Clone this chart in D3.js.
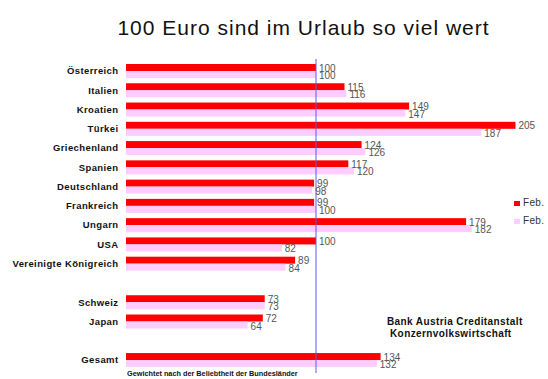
<!DOCTYPE html>
<html><head><meta charset="utf-8">
<script src="https://cdn.jsdelivr.net/npm/d3@7"></script>
<style>body{margin:0;background:#fff}svg{display:block}</style>
</head><body>
<script>
const categories = ["Österreich","Italien","Kroatien","Türkei","Griechenland","Spanien","Deutschland","Frankreich","Ungarn","USA","Vereinigte Königreich","","Schweiz","Japan","","Gesamt"];
const seriesNames = ["Feb.","Feb."];
const values1 = [100,115,149,205,124,117,99,99,179,100,89,null,73,72,null,134];
const values2 = [100,116,147,187,126,120,98,100,182,82,84,null,73,64,null,132];
const colors = ["#ff0000","#ffccff"];

const W=548,H=379;
const svg=d3.select("body").append("svg").attr("width",W).attr("height",H);

const x=d3.scaleLinear().domain([0,220]).range([126,544]);
const y=d3.scaleBand().domain(d3.range(categories.length)).range([62,62+16*19.27]).padding(0);
const sub=d3.scaleBand().domain([0,1]).range([2,16]).padding(0);

svg.append("text").attr("x",303.5).attr("y",35).attr("text-anchor","middle")
  .attr("font-family","Liberation Sans, Arial, sans-serif").attr("font-size",21)
  .attr("letter-spacing",1).attr("fill","#111").text("100 Euro sind im Urlaub so viel wert");

const rows=categories.map((c,i)=>({c,i,v:[values1[i],values2[i]]})).filter(d=>d.c!=="");

const g=svg.append("g");
rows.forEach(d=>{
  d.v.forEach((v,k)=>{
    g.append("rect").attr("x",x(0)).attr("y",y(d.i)+sub(k)).attr("width",x(v)-x(0)).attr("height",sub.bandwidth()).attr("fill",colors[k]);
  });
});
// reference line at 100
svg.append("line").attr("x1",x(100)).attr("x2",x(100)).attr("y1",59).attr("y2",373).attr("stroke","#5a5aee").attr("stroke-width",1);

rows.forEach(d=>{
  d.v.forEach((v,k)=>{
    svg.append("text").attr("x",x(v)+3).attr("y",y(d.i)+sub(k)+sub.bandwidth()+(k?1:0.5))
      .attr("font-family","Liberation Sans, Arial, sans-serif").attr("font-size",10).attr("fill","#555").text(v);
  });
  svg.append("text").attr("x",118.5).attr("y",y(d.i)+sub(1)+3.3).attr("text-anchor","end")
    .attr("font-family","Liberation Sans, Arial, sans-serif").attr("font-size",9.5).attr("font-weight","bold")
    .attr("letter-spacing",0.4).attr("fill","#111").text(d.c);
});

// legend
seriesNames.forEach((s,k)=>{
  svg.append("rect").attr("x",514).attr("y",201+k*18).attr("width",6).attr("height",5).attr("fill",colors[k]);
  svg.append("text").attr("x",523).attr("y",206+k*18).attr("font-family","Liberation Sans, Arial, sans-serif")
    .attr("font-size",10).attr("letter-spacing",0.3).attr("fill","#333").text(s);
});

svg.append("text").attr("x",387).attr("y",325).attr("font-family","Liberation Sans, Arial, sans-serif")
  .attr("font-size",10).attr("font-weight","bold").attr("letter-spacing",0.4).attr("fill","#111").text("Bank Austria Creditanstalt");
svg.append("text").attr("x",390).attr("y",337).attr("font-family","Liberation Sans, Arial, sans-serif")
  .attr("font-size",10).attr("font-weight","bold").attr("letter-spacing",0.4).attr("fill","#111").text("Konzernvolkswirtschaft");
svg.append("text").attr("x",127).attr("y",376).attr("font-family","Liberation Sans, Arial, sans-serif")
  .attr("font-size",7.3).attr("font-weight","bold").attr("fill","#111").text("Gewichtet nach der Beliebtheit der Bundesländer");
</script>
</body></html>
